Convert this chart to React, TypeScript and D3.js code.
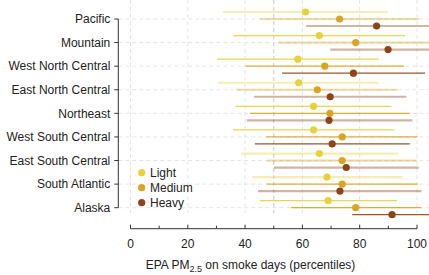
import React from "react";
import * as d3 from "d3";

const regions = ["Pacific", "Mountain", "West North Central", "East North Central", "Northeast", "West South Central", "East South Central", "South Atlantic", "Alaska"];
const seriesNames = ["Light", "Medium", "Heavy"];
const seriesColors = ["#e8d23c", "#dba422", "#8e4416"];

const lightMid = [61.1, 65.9, 58.4, 58.7, 63.9, 63.9, 65.9, 68.6, 69.0];
const lightLo = [32.3, 35.9, 30.2, 30.6, 36.6, 35.8, 38.7, 42.5, 45.1];
const lightHi = [89.8, 95.8, 86.7, 86.7, 91.1, 92.1, 93.3, 95.0, 93.0];
const lightSig = [false, true, true, false, true, true, false, false, true];

const mediumMid = [73.0, 78.6, 67.8, 65.2, 69.6, 73.9, 73.9, 73.9, 78.6];
const mediumLo = [45.3, 51.5, 40.2, 36.9, 41.7, 47.4, 47.7, 47.6, 56.0];
const mediumHi = [100.7, 106, 95.5, 93.2, 97.5, 100.2, 99.9, 100.2, 101.4];
const mediumSig = [false, false, true, false, true, true, false, true, true];

const heavyMid = [85.9, 89.9, 77.8, 69.7, 69.3, 70.4, 75.3, 73.1, 91.3];
const heavyLo = [61.3, 69.7, 52.9, 43.1, 40.6, 43.4, 50.1, 44.5, 77.4];
const heavyHi = [110, 110, 102.8, 96.3, 98.4, 97.5, 100.6, 101.6, 106];
const heavySig = [false, false, true, false, false, true, false, false, true];

const xTicks = [0, 20, 40, 60, 80, 100];
const xMinorTicks = [10, 30, 50, 70, 90];

const W = 429, H = 275;
const font = "'Liberation Sans', Arial, Helvetica, sans-serif";

export default function App() {
  const x = d3.scaleLinear().domain([0, 100]).range([130.5, 417]);
  const y = d3.scalePoint<string>().domain(regions).range([19, 207.7]);
  const offsets = [-7, 0, 7];
  const series = [
    { mid: lightMid, lo: lightLo, hi: lightHi, sig: lightSig },
    { mid: mediumMid, lo: mediumLo, hi: mediumHi, sig: mediumSig },
    { mid: heavyMid, lo: heavyLo, hi: heavyHi, sig: heavySig },
  ];
  const axisY = 228.7;
  const yAxisX = 118.3;

  return (
    <svg width={W} height={H} style={{ position: "absolute", left: 0, top: 0, fontFamily: font }}>
      <defs>
        <clipPath id="plotclip">
          <rect x={yAxisX} y={0} width={W - yAxisX} height={220} />
        </clipPath>
      </defs>
      {/* vertical gridlines */}
      {xTicks.map((t) => (
        <line key={"vg" + t} x1={x(t)} x2={x(t)} y1={0} y2={213} stroke="#e4e4e4" strokeWidth={1} strokeDasharray="4,3" />
      ))}
      <line x1={x(50)} x2={x(50)} y1={0} y2={213} stroke="#c8c8c8" strokeWidth={1} strokeDasharray="4,3" />
      {/* horizontal gridlines */}
      {regions.map((r) => (
        <line key={"hg" + r} x1={yAxisX} x2={W} y1={y(r)} y2={y(r)} stroke="#e4e4e4" strokeWidth={1} strokeDasharray="4,3" />
      ))}
      {/* intervals and points */}
      <g clipPath="url(#plotclip)">
        {series.map((s, si) =>
          regions.map((r, i) => {
            const yy = (y(r) as number) + offsets[si];
            const sig = s.sig[i];
            return (
              <g key={si + "-" + r}>
                <line
                  x1={x(s.lo[i])}
                  x2={x(s.hi[i])}
                  y1={yy}
                  y2={yy}
                  stroke={seriesColors[si]}
                  strokeWidth={sig ? 1.3 : 2.2}
                  strokeOpacity={sig ? 0.9 : 0.4}
                />
                <circle cx={x(s.mid[i])} cy={yy} r={3.6} fill={seriesColors[si]} />
              </g>
            );
          })
        )}
      </g>
      {/* y axis */}
      <line x1={yAxisX} x2={yAxisX} y1={y(regions[0])} y2={y(regions[regions.length - 1])} stroke="#333" strokeWidth={1} />
      {regions.map((r) => (
        <g key={"yt" + r}>
          <line x1={yAxisX - 4} x2={yAxisX} y1={y(r)} y2={y(r)} stroke="#333" strokeWidth={1} />
          <text x={yAxisX - 8} y={y(r)} dy="0.35em" textAnchor="end" fontSize={12} fill="#222">
            {r}
          </text>
        </g>
      ))}
      {/* x axis */}
      <line x1={x(0)} x2={x(100)} y1={axisY} y2={axisY} stroke="#333" strokeWidth={1} />
      {xTicks.map((t) => (
        <g key={"xt" + t}>
          <line x1={x(t)} x2={x(t)} y1={axisY - 4} y2={axisY} stroke="#333" strokeWidth={1} />
          <text x={x(t)} y={244} dy="0.35em" textAnchor="middle" fontSize={12} fill="#222">
            {t}
          </text>
        </g>
      ))}
      {xMinorTicks.map((t) => (
        <line key={"xm" + t} x1={x(t)} x2={x(t)} y1={axisY - 3} y2={axisY} stroke="#333" strokeWidth={1} />
      ))}
      <text x={250.5} y={265} dy="0.35em" textAnchor="middle" fontSize={12} fill="#222">
        EPA PM
        <tspan fontSize={9} dy="3">2.5</tspan>
        <tspan dy="-3"> on smoke days (percentiles)</tspan>
      </text>
      {/* legend */}
      {seriesNames.map((n, i) => (
        <g key={"lg" + n}>
          <circle cx={141.7} cy={172.7 + i * 15} r={3.6} fill={seriesColors[i]} />
          <text x={150} y={172.7 + i * 15} dy="0.35em" fontSize={12} fill="#222">
            {n}
          </text>
        </g>
      ))}
    </svg>
  );
}
